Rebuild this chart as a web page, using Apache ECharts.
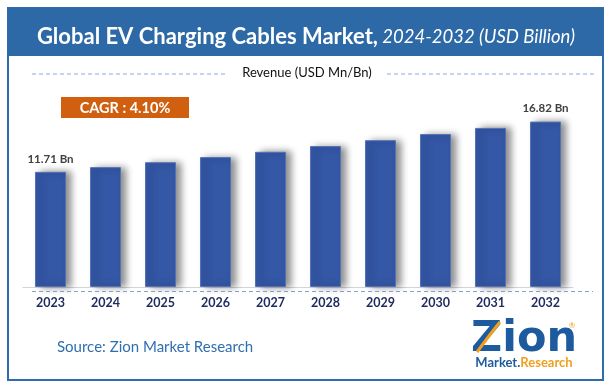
<!DOCTYPE html>
<html>
<head>
<meta charset="utf-8">
<style>html,body{margin:0;padding:0;background:#fff;}#chart{width:611px;height:390px;}</style>
<script src="https://cdn.jsdelivr.net/npm/echarts@6/dist/echarts.min.js"></script>
</head>
<body>
<div id="chart"></div>
<script>
const years = ['2023','2024','2025','2026','2027','2028','2029','2030','2031','2032'];
const revenue = [11.71, 12.19, 12.69, 13.21, 13.75, 14.33, 14.93, 15.55, 16.18, 16.82];
const labelledYears = ['2023','2032'];
const titleMain = 'Global EV Charging Cables Market,';
const titleSub = ' 2024-2032 (USD Billion)';
const legendText = 'Revenue (USD Mn/Bn)';
const cagrText = 'CAGR : 4.10%';
const sourceText = 'Source: Zion Market Research';

const FONT = 'Lato, "Open Sans", sans-serif';
const chart = echarts.init(document.getElementById('chart'), null, {renderer:'canvas'});

const option = {
  animation: false,
  backgroundColor: '#ffffff',
  grid: { left: 23, right: 38, top: 110, bottom: 103 },
  xAxis: {
    type: 'category',
    data: years,
    axisLine: { show: true, lineStyle: { color: '#d4d4d4', width: 1 } },
    axisTick: { show: false },
    axisLabel: { color: '#1f2b5e', fontWeight: 'bold', fontSize: 12.5, fontFamily: FONT, margin: 9 }
  },
  yAxis: {
    type: 'value', min: 0, max: 18,
    show: false, splitLine: { show: false }
  },
  series: [{
    type: 'bar',
    barWidth: 31,
    data: revenue.map((v, i) => ({
      value: v,
      label: { show: labelledYears.includes(years[i]) }
    })),
    itemStyle: {
      color: '#3457a6',
      borderColor: '#5572b6',
      borderWidth: 1,
      shadowColor: 'rgba(0,0,0,0.45)',
      shadowBlur: 7,
      shadowOffsetX: 5,
      shadowOffsetY: 0
    },
    label: {
      position: 'top',
      distance: 7,
      color: '#404040',
      fontWeight: 'bold',
      fontSize: 11.5,
      fontFamily: FONT,
      formatter: p => p.value.toFixed(2) + ' Bn'
    },
    z: 5
  }],
  graphic: [
    { type: 'rect', z: -10, shape: { x: 8, y: 8, width: 595, height: 372 },
      style: { fill: '#ffffff', stroke: '#2e6cae', lineWidth: 2 } },
    { type: 'rect', z: -9, shape: { x: 8, y: 8, width: 595, height: 48 },
      style: { fill: '#2c69a6' } },
    { type: 'text', z: 10, x: 306, y: 37,
      style: {
        text: '{b|' + titleMain + '}{i|' + titleSub + '}',
        align: 'center', verticalAlign: 'middle',
        rich: {
          b: { fill: '#ffffff', fontSize: 22, fontWeight: 'bold', fontFamily: FONT },
          i: { fill: '#ffffff', fontSize: 18.5, fontStyle: 'italic', fontFamily: FONT }
        }
      } },
    { type: 'line', z: 10, shape: { x1: 32, y1: 74, x2: 226, y2: 74 },
      style: { stroke: '#8eaadc', lineWidth: 1.2, lineDash: [4, 3] } },
    { type: 'line', z: 10, shape: { x1: 387, y1: 74, x2: 596, y2: 74 },
      style: { stroke: '#8eaadc', lineWidth: 1.2, lineDash: [4, 3] } },
    { type: 'text', z: 10, x: 307, y: 73,
      style: { text: legendText, align: 'center', verticalAlign: 'middle',
        fill: '#111111', fontSize: 13, fontFamily: FONT } },
    { type: 'rect', z: 10, shape: { x: 61, y: 97, width: 128, height: 21 },
      style: { fill: '#d0600f' } },
    { type: 'text', z: 11, x: 125, y: 108,
      style: { text: cagrText, align: 'center', verticalAlign: 'middle',
        fill: '#ffffff', fontSize: 14.5, fontWeight: 'bold', fontFamily: FONT } },
    { type: 'line', z: 10, shape: { x1: 32, y1: 291.5, x2: 593, y2: 291.5 },
      style: { stroke: '#7f9fd8', lineWidth: 1.2, lineDash: [4, 3] } },
    { type: 'text', z: 10, x: 57, y: 347,
      style: { text: sourceText, align: 'left', verticalAlign: 'middle',
        fill: '#2f6fb0', fontSize: 15, fontFamily: FONT } },
    { type: 'text', z: 10, x: 524, y: 340,
      style: { text: 'Zion', align: 'center', verticalAlign: 'middle',
        fill: '#1d5b9e', fontSize: 43, fontWeight: 'bold', fontFamily: '"DejaVu Sans", sans-serif' } },
    { type: 'polyline', z: 11, shape: { points: [[477, 352], [492, 332], [500, 322]] },
      style: { stroke: '#f0a01e', lineWidth: 3, fill: null } },
    { type: 'text', z: 10, x: 524, y: 363,
      style: {
        text: '{m|Market.}{r|Research}', align: 'center', verticalAlign: 'middle',
        rich: {
          m: { fill: '#1d5b9e', fontSize: 13, fontWeight: 'bold', fontFamily: FONT },
          r: { fill: '#f0a01e', fontSize: 13, fontWeight: 'bold', fontFamily: FONT }
        }
      } },
    { type: 'text', z: 10, x: 572, y: 325,
      style: { text: '®', align: 'center', verticalAlign: 'middle',
        fill: '#f0a01e', fontSize: 8, fontFamily: FONT } }
  ]
};
chart.setOption(option);
</script>
</body>
</html>
